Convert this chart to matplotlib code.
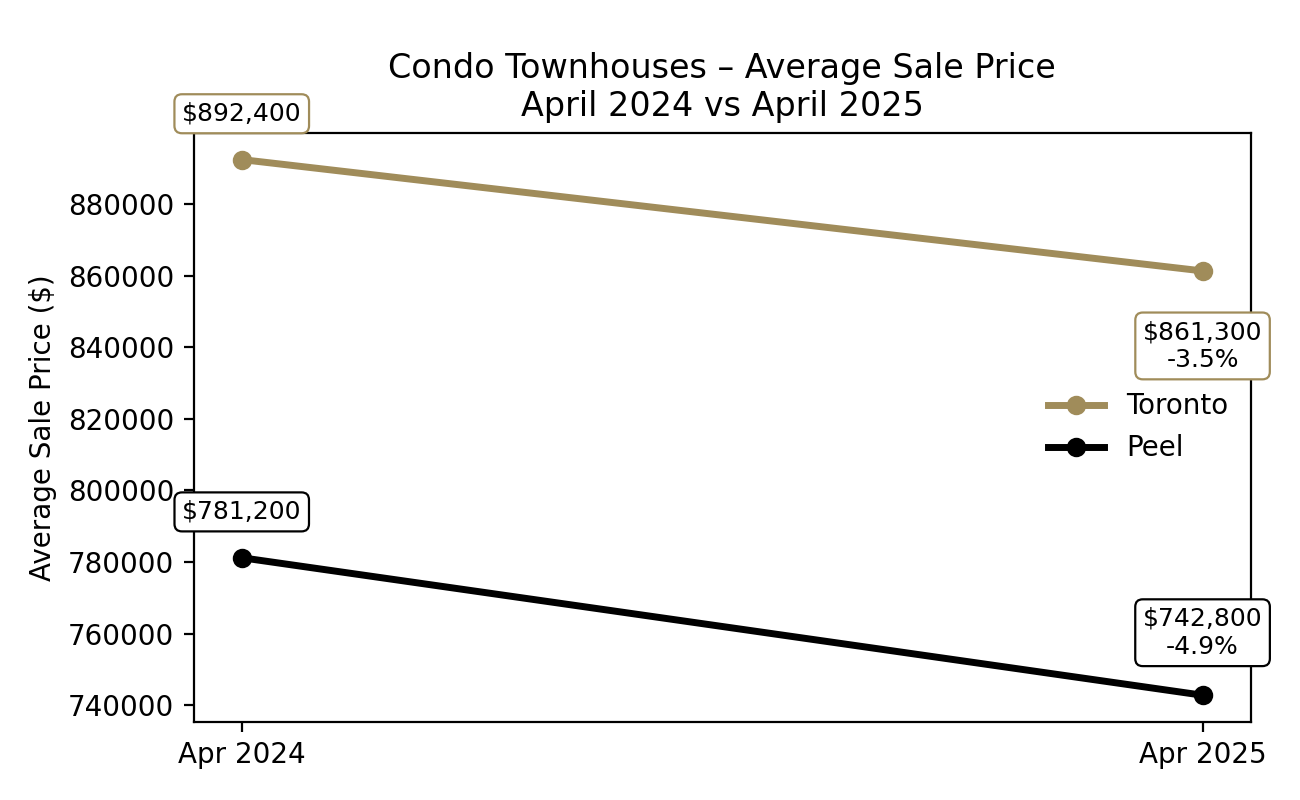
import matplotlib
matplotlib.use("Agg")
import matplotlib.pyplot as plt

periods = ["Apr 2024", "Apr 2025"]
toronto = [892400, 861300]
peel = [781200, 742800]
toronto_change = "-3.5%"
peel_change = "-4.9%"

gold = "#A08C5A"

fig, ax = plt.subplots(figsize=(6.5, 4), dpi=200)
x = list(range(len(periods)))
ax.plot(x, toronto, color=gold, lw=2.5, marker="o", ms=6, label="Toronto")
ax.plot(x, peel, color="black", lw=2.5, marker="o", ms=6, label="Peel")

def box(ec):
    return dict(boxstyle="round,pad=0.3", fc="white", ec=ec, lw=0.8)

ax.annotate(f"${toronto[0]:,}", (x[0], toronto[0]), xytext=(0, 16.5), textcoords="offset points",
            ha="center", va="center", fontsize=9, bbox=box(gold))
ax.annotate(f"${toronto[1]:,}\n{toronto_change}", (x[1], toronto[1]), xytext=(0, -27), textcoords="offset points",
            ha="center", va="center", fontsize=9, bbox=box(gold))
ax.annotate(f"${peel[0]:,}", (x[0], peel[0]), xytext=(0, 16.5), textcoords="offset points",
            ha="center", va="center", fontsize=9, bbox=box("black"))
ax.annotate(f"${peel[1]:,}\n{peel_change}", (x[1], peel[1]), xytext=(0, 22.5), textcoords="offset points",
            ha="center", va="center", fontsize=9, bbox=box("black"))

ax.set_xticks(x)
ax.set_xticklabels(periods)
ax.set_ylabel("Average Sale Price ($)")
ax.set_title("Condo Townhouses – Average Sale Price\nApril 2024 vs April 2025")
ax.ticklabel_format(axis="y", style="plain", useOffset=False)
ax.legend(loc="center right", frameon=False, borderaxespad=0.4)

fig.subplots_adjust(left=0.149, right=0.962, top=0.834, bottom=0.0975)
fig.savefig("out.png", dpi=200)
